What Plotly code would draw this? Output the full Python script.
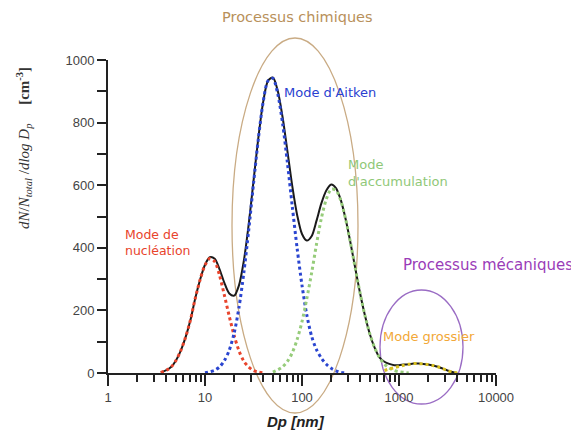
import plotly.graph_objects as go

# Diameters (nm) on a shared grid
diameter_nm = [3.5, 4.0, 4.5, 5.0, 5.6, 6.3, 7.1, 7.9, 8.9, 10,
               11.2, 12.6, 14.1, 15.8, 17.8, 20, 22.4, 25.1, 28.2, 31.6,
               35.5, 39.8, 44.7, 50.1, 56.2, 63.1, 70.8, 79.4, 89.1, 100,
               112, 126, 141, 158, 178, 200, 224, 251, 282, 316,
               355, 398, 447, 501, 562, 631, 708, 794, 891, 1000,
               1122, 1259, 1413, 1585, 1778, 1995, 2239, 2512, 2818, 3162,
               3548, 3981]

N = None
mode_nucleation = [2, 9, 20, 39, 70, 114, 171, 236, 298, 345,
                   366, 356, 313, 250, 181, 119, 71, 38, 19, 8,
                   3, 0] + [N] * 40

mode_aitken = [N] * 9 + [1, 4, 9, 19, 39, 73, 128, 209, 319, 455, 604,
                         749, 866, 934, 941, 892, 797, 671, 532, 398, 280,
                         186, 116, 75, 48, 28, 15, 7, 2, 0] + [N] * 23

mode_accumulation = [N] * 23 + [3, 10, 20, 37, 65, 107, 164, 237, 322, 411,
                                 493, 555, 587, 584, 551, 491, 416, 333, 253, 182,
                                 124, 80, 49, 28, 16, 8, 4, 2, 0] + [N] * 10

mode_coarse = [N] * 46 + [8, 13, 17, 21, 25, 28, 30, 30, 29, 27,
                          24, 20, 14, 8, 3, 0]

total = [2, 9, 20, 39, 70, 114, 171, 236, 298, 346,
         370, 365, 332, 289, 254, 247, 280, 357, 474, 612,
         752, 866, 934, 944, 902, 817, 708, 597, 505, 444,
         423, 438, 486, 541, 583, 602, 591, 553, 491, 416,
         333, 253, 182, 124, 80, 49, 36, 29, 25, 25,
         27, 28, 30, 30, 29, 27, 24, 20, 14, 8,
         3, 0]

x_tick_values = [1, 10, 100, 1000, 10000]
x_tick_labels = ["1", "10", "100", "1000", "10000"]
y_tick_values = [0, 200, 400, 600, 800, 1000]

# ---- layout geometry (screen pixels; page draws the figure 8px in) ----
W, H = 579, 436
OFF = 8
AX_L, AX_R, AX_T, AX_B = 108, 496, 60, 373   # plot area in screen px
L = AX_L - OFF
T = AX_T - OFF
R = W - (AX_R - OFF)
B = H - (AX_B - OFF)
PW, PH = AX_R - AX_L, AX_B - AX_T


def px(x):
    return (x - AX_L) / PW


def py(y):
    return (AX_B - y) / PH


fig = go.Figure()

fig.add_trace(go.Scatter(x=diameter_nm, y=total, mode="lines",
                         line=dict(color="#1a1a1a", width=2, shape="spline", smoothing=0.8),
                         showlegend=False, hoverinfo="skip"))

modes = [
    (mode_nucleation, "#e8442c"),
    (mode_aitken, "#2a45d0"),
    (mode_accumulation, "#96cc7a"),
    (mode_coarse, "#d8c020"),
]
for vals, col in modes:
    fig.add_trace(go.Scatter(x=diameter_nm, y=vals, mode="lines",
                             line=dict(color=col, width=3, dash="3px,3px",
                                       shape="spline", smoothing=0.8),
                             connectgaps=False, showlegend=False, hoverinfo="skip"))

minor_x = [m * 10 ** e for e in range(0, 4) for m in range(2, 10)]

fig.update_layout(
    width=W, height=H,
    margin=dict(l=L, r=R, t=T, b=B),
    paper_bgcolor="white", plot_bgcolor="rgba(0,0,0,0)",
    font=dict(family="Liberation Sans, Arial", color="#333", size=13),
    xaxis=dict(type="log", range=[0, 4], tickmode="array",
               tickvals=x_tick_values, ticktext=x_tick_labels,
               ticks="outside", ticklen=11, tickwidth=2, tickcolor="#222",
               showline=True, linewidth=2, linecolor="#222",
               showgrid=False, zeroline=False,
               minor=dict(tickmode="array", tickvals=minor_x, ticks="outside",
                          ticklen=7, tickwidth=2, tickcolor="#222", showgrid=False),
               tickfont=dict(size=13, color="#444")),
    yaxis=dict(range=[0, 1000], tickmode="array", tickvals=y_tick_values,
               ticks="outside", ticklen=9, tickwidth=2, tickcolor="#222",
               showline=True, linewidth=2, linecolor="#222",
               showgrid=False, zeroline=False,
               minor=dict(dtick=100, ticks="outside", ticklen=9, tickwidth=2,
                          tickcolor="#222", showgrid=False),
               tickfont=dict(size=13, color="#444")),
)

# Ellipses
fig.add_shape(type="circle", xref="paper", yref="paper",
              x0=px(232), x1=px(358), y0=py(413), y1=py(38),
              line=dict(color="#c9ab84", width=1.3), layer="below")
fig.add_shape(type="circle", xref="paper", yref="paper",
              x0=px(380), x1=px(463), y0=py(404), y1=py(290),
              line=dict(color="#9a6cc4", width=1.3), layer="below")

ann_font = "DejaVu Sans, sans-serif"


def note(text, x, y, color, size, xanchor="center", align="center"):
    fig.add_annotation(text=text, x=px(x), y=py(y), xref="paper", yref="paper",
                       showarrow=False, xanchor=xanchor, yanchor="middle", align=align,
                       font=dict(family=ann_font, size=size, color=color))


note("Processus chimiques", 297, 17, "#b8905a", 14.5)
note("Mode d'Aitken", 282, 92, "#2a3fd0", 13, xanchor="left")
note("Mode<br>d'accumulation", 346, 173, "#90c878", 13, xanchor="left", align="left")
note("Mode de<br>nucléation", 123, 242, "#e8442c", 12.5, xanchor="left", align="left")
note("Processus mécaniques", 401, 265, "#9a3cb8", 15, xanchor="left")
note("Mode grossier", 381, 336, "#f2a838", 13, xanchor="left")

fig.add_annotation(text="<b><i>Dp [nm]</i></b>", x=px(296), y=py(421), xref="paper", yref="paper",
                   xanchor="center", yanchor="middle",
                   showarrow=False, font=dict(family="Liberation Sans, Arial", size=15, color="#222"))

fig.add_annotation(
    text="<i>dN</i>/<i>N<sub>total</sub></i> /<i>dlog D<sub>p</sub></i>     <b>[cm<sup>-3</sup>]</b>",
    x=px(24), y=py(148), xref="paper", yref="paper", textangle=-90,
    xanchor="center", yanchor="middle",
    showarrow=False, font=dict(family="Liberation Serif, Times New Roman, serif", size=15, color="#333"))

fig.write_html("out.html")
